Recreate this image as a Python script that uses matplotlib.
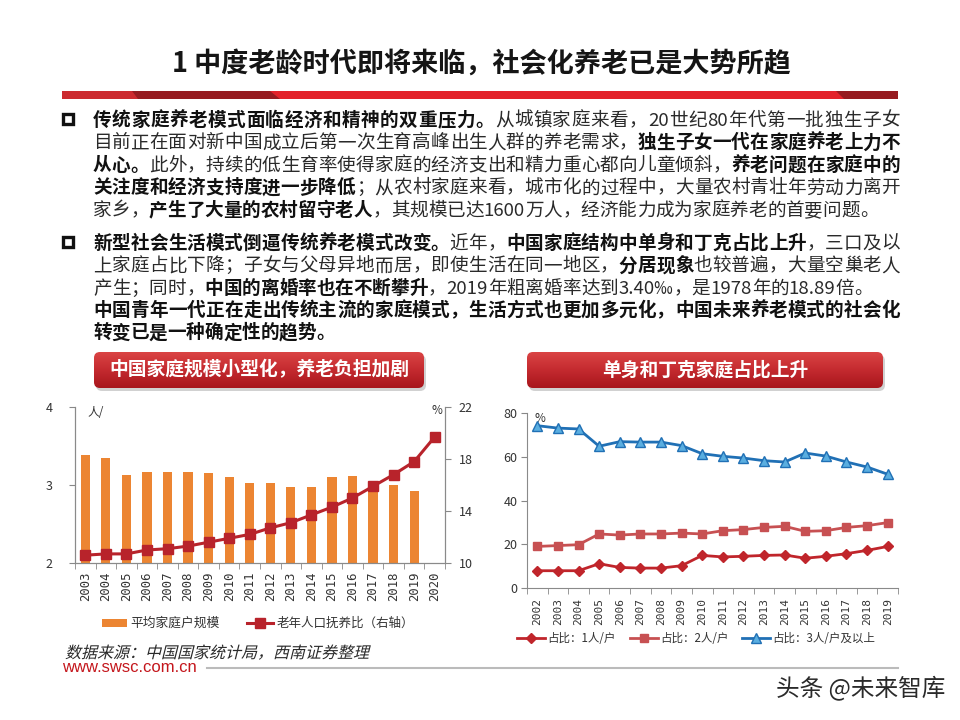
import re
import numpy as np
import matplotlib
matplotlib.use('Agg')
import matplotlib.pyplot as plt
from matplotlib.patches import FancyBboxPatch, Rectangle, Polygon, PathPatch
from matplotlib.textpath import TextPath
from matplotlib.font_manager import FontProperties
from matplotlib.transforms import Affine2D

plt.rcParams['font.family'] = ['Noto Sans CJK SC', 'DejaVu Sans']

W, H = 960, 720

# 左图：家庭户规模与老年抚养比
years_l = [str(y) for y in range(2003, 2021)]
hh_size = [3.38, 3.35, 3.13, 3.17, 3.17, 3.17, 3.15, 3.10, 3.03, 3.03,
           2.98, 2.98, 3.10, 3.11, 3.03, 3.00, 2.92]          # 2020年无数据
old_ratio = [10.6, 10.7, 10.7, 11.0, 11.1, 11.3, 11.6, 11.9, 12.2, 12.7,
             13.1, 13.7, 14.3, 15.0, 15.9, 16.8, 17.8, 19.7]

# 右图：不同规模家庭占比
years_r = [str(y) for y in range(2002, 2020)]
one_p = [7.9, 7.9, 7.9, 11.1, 9.4, 9.1, 9.1, 10.2, 14.9, 14.2,
         14.5, 14.9, 15.1, 13.6, 14.5, 15.7, 17.2, 19.0]
two_p = [19.0, 19.4, 19.8, 24.7, 24.2, 24.7, 24.7, 25.1, 24.7, 26.2,
         26.7, 27.7, 28.2, 25.9, 26.2, 27.7, 28.5, 29.9]
three_p = [74.2, 73.1, 72.7, 64.8, 66.9, 66.7, 66.7, 65.1, 61.4, 60.2,
           59.4, 58.2, 57.6, 61.7, 60.3, 57.6, 55.3, 52.0]
labels_r = ['占比：1人/户', '占比：2人/户', '占比：3人/户及以上']

title = '1 中度老龄时代即将来临，社会化养老已是大势所趋'
banner_l = '中国家庭规模小型化，养老负担加剧'
banner_r = '单身和丁克家庭占比上升'

# 正文：每行若干 (文字, 是否加粗)
para1 = [
    [('传统家庭养老模式面临经济和精神的双重压力。', 1), ('从城镇家庭来看，20世纪80年代第一批独生子女', 0)],
    [('目前正在面对新中国成立后第一次生育高峰出生人群的养老需求，', 0), ('独生子女一代在家庭养老上力不', 1)],
    [('从心。', 1), ('此外，持续的低生育率使得家庭的经济支出和精力重心都向儿童倾斜，', 0), ('养老问题在家庭中的', 1)],
    [('关注度和经济支持度进一步降低', 1), ('；从农村家庭来看，城市化的过程中，大量农村青壮年劳动力离开', 0)],
    [('家乡，', 0), ('产生了大量的农村留守老人', 1), ('，其规模已达1600万人，经济能力成为家庭养老的首要问题。', 0)],
]
para2 = [
    [('新型社会生活模式倒逼传统养老模式改变。', 1), ('近年，', 0), ('中国家庭结构中单身和丁克占比上升', 1), ('，三口及以', 0)],
    [('上家庭占比下降；子女与父母异地而居，即使生活在同一地区，', 0), ('分居现象', 1), ('也较普遍，大量空巢老人', 0)],
    [('产生；同时，', 0), ('中国的离婚率也在不断攀升', 1), ('，2019年粗离婚率达到3.40‰，是1978年的18.89倍。', 0)],
    [('中国青年一代正在走出传统主流的家庭模式，生活方式也更加多元化，中国未来养老模式的社会化', 1)],
    [('转变已是一种确定性的趋势。', 1)],
]

fig = plt.figure(figsize=(9.6, 7.2), dpi=100)
fig.patch.set_facecolor('white')
renderer = fig.canvas.get_renderer()

# 整页叠加层，坐标即像素
ax0 = fig.add_axes([0, 0, 1, 1])
ax0.set_xlim(0, W)
ax0.set_ylim(H, 0)
ax0.axis('off')

ax0.text(481, 64, title, fontsize=19.5, fontweight='bold', color='#151515',
         ha='center', va='center')

# 标题下的红条
ax0.add_patch(Rectangle((62, 91), 836, 8, color='#E3222A', lw=0))
ax0.add_patch(Polygon([(62, 91), (132, 91), (138, 99), (62, 99)], color='#CC2A2F', lw=0))
ax0.add_patch(Polygon([(132, 91), (270, 91), (280, 99), (138, 99)], color='#961B20', lw=0))
ax0.add_patch(Polygon([(836, 91), (898, 91), (898, 99), (844, 99)], color='#961B20', lw=0))

fs_body = 13.4
em = fs_body * 100 / 72


def draw_line(runs, yc, justify, x0=93, x1=900):
    toks = []
    for txt, bold in runs:
        for tok in re.findall(r'[A-Za-z0-9.%‰]+|.', txt):
            toks.append((tok, bold))
    widths = []
    for tok, bold in toks:
        if len(tok) == 1 and ord(tok) > 0x2E7F:
            widths.append(em)
        else:
            t = ax0.text(0, 0, tok, fontsize=fs_body, fontweight='bold' if bold else 'normal')
            widths.append(t.get_window_extent(renderer).width)
            t.remove()
    gap = (x1 - x0 - sum(widths)) / (len(toks) - 1) if justify else 0
    x = x0
    base = yc + 0.37 * em
    for (tok, bold), w in zip(toks, widths):
        fw = 'bold' if bold else 'normal'
        col = '#111111' if bold else '#2a2a2a'
        if len(tok) == 1 and ord(tok) > 0x2E7F:
            ax0.text(x + w / 2, base, tok, fontsize=fs_body, fontweight=fw, color=col,
                     ha='center', va='baseline')
        else:
            ax0.text(x, base, tok, fontsize=fs_body, fontweight=fw, color=col,
                     ha='left', va='baseline')
        x += w + gap


ys1 = [119, 141.5, 164, 186.5, 209]
ys2 = [242, 264.5, 287, 309, 331.5]
for i, (runs, yc) in enumerate(zip(para1, ys1)):
    draw_line(runs, yc, i != 4)
for i, (runs, yc) in enumerate(zip(para2, ys2)):
    draw_line(runs, yc, i not in (2, 4))
for yc in (ys1[0], ys2[0]):
    ax0.add_patch(Rectangle((63, yc - 5), 10, 10, fill=False, lw=2.4, ec='#111111'))


def banner(x, y, w, h, txt, cx):
    ax0.add_patch(FancyBboxPatch((x + 2, y + 3), w, h, boxstyle='round,pad=0,rounding_size=6',
                                 fc='#9a9a9a', ec='none', alpha=0.45))
    box = FancyBboxPatch((x, y), w, h, boxstyle='round,pad=0,rounding_size=6',
                         fc='none', ec='none')
    ax0.add_patch(box)
    grad = np.linspace(0, 1, 64).reshape(-1, 1)
    cmap = matplotlib.colors.LinearSegmentedColormap.from_list('bn', ['#DA4444', '#C42A2F', '#A8161C'])
    im = ax0.imshow(grad, cmap=cmap, extent=[x, x + w, y + h, y], aspect='auto', zorder=2)
    im.set_clip_path(box)
    ax0.text(cx, y + h / 2, txt, fontsize=13.5, fontweight='bold', color='white',
             ha='center', va='center', zorder=3)


banner(94, 352, 330, 36, banner_l, 259)
banner(527, 352, 356, 36, banner_r, 705)
ax0.set_xlim(0, W)
ax0.set_ylim(H, 0)

# 左图
def px_axes(x0, y0, x1, y1):
    return fig.add_axes([x0 / W, 1 - y1 / H, (x1 - x0) / W, (y1 - y0) / H])


ax1 = px_axes(75, 407, 445, 563)
ax1.set_facecolor('none')
xl = np.arange(len(years_l))
ax1.bar(xl[:len(hh_size)], hh_size, width=0.45, color='#EC8532', zorder=2)
ax1.set_xlim(-0.5, len(years_l) - 0.5)
ax1.set_ylim(2, 4)
ax1.set_yticks([2, 3, 4])
ax1.set_xticks(xl)
ax1.set_xticklabels(years_l, rotation=90, fontsize=8.8, family='DejaVu Sans Mono', color='#333333')
ax1.set_xticks(np.arange(-0.5, len(years_l)), minor=True)
ax1.tick_params(axis='x', which='major', length=0, pad=6)
ax1.tick_params(axis='x', which='minor', length=4, color='#888888')
ax1.tick_params(axis='y', length=4, color='#888888', labelsize=9, labelcolor='#333333', pad=12)
for s in ('left', 'bottom', 'right'):
    ax1.spines[s].set_color('#8a8a8a')
ax1.spines['top'].set_visible(False)

ax1b = ax1.twinx()
ax1b.plot(xl, old_ratio, color='#B8232B', lw=2.2, marker='s', ms=6.5, zorder=3)
ax1b.set_ylim(10, 22)
ax1b.set_yticks([10, 14, 18, 22])
ax1b.tick_params(axis='y', length=4, color='#888888', labelsize=9, labelcolor='#333333', pad=6)
for s in ('left', 'bottom', 'right'):
    ax1b.spines[s].set_color('#8a8a8a')
ax1b.spines['top'].set_visible(False)

ax0.text(87, 412, '人/', fontsize=8.5, color='#333333', ha='left', va='center')
ax0.text(437, 411, '%', fontsize=8.5, color='#333333', ha='center', va='center')

# 左图图例
ax0.add_patch(Rectangle((102, 619), 25, 8, color='#EC8532', lw=0))
ax0.text(130, 623, '平均家庭户规模', fontsize=9.2, color='#333333', ha='left', va='center')
ax0.plot([247, 260, 273], [623] * 3, color='#B8232B', lw=2.2, marker='s', ms=6.5, markevery=[1])
ax0.text(277, 623, '老年人口抚养比（右轴）', fontsize=9, color='#333333', ha='left', va='center')

# 右图
ax2 = px_axes(527, 413, 898, 588)
ax2.set_facecolor('none')
xr = np.arange(len(years_r))
ax2.plot(xr, one_p, color='#C0252B', lw=2, marker='D', ms=5, label=labels_r[0])
ax2.plot(xr, two_p, color='#C75052', lw=2, marker='s', ms=6, label=labels_r[1])
ax2.plot(xr, three_p, color='#2070B5', lw=2, marker='^', ms=6.5, mfc='#5AAEE0', mec='#2070B5',
         label=labels_r[2])
ax2.set_xlim(-0.5, len(years_r) - 0.5)
ax2.set_ylim(0, 80)
ax2.set_yticks([0, 20, 40, 60, 80])
ax2.set_xticks(xr)
ax2.set_xticklabels(years_r, rotation=90, fontsize=8, family='DejaVu Sans Mono', color='#333333')
ax2.set_xticks(np.arange(-0.5, len(years_r)), minor=True)
ax2.tick_params(axis='x', which='major', length=0, pad=7)
ax2.tick_params(axis='x', which='minor', length=4, color='#888888')
ax2.tick_params(axis='y', length=4, color='#888888', labelsize=9, labelcolor='#333333', pad=3)
for s in ('left', 'bottom'):
    ax2.spines[s].set_color('#8a8a8a')
for s in ('top', 'right'):
    ax2.spines[s].set_visible(False)
ax0.text(540, 418, '%', fontsize=8.5, color='#333333', ha='center', va='center')

# 右图图例
leg_items = [(517, '#C0252B', 'D', 5, '#C0252B'),
             (630, '#C75052', 's', 6, '#C75052'),
             (742, '#2070B5', '^', 6.5, '#5AAEE0')]
for (lx, c, m, ms, mfc), lab in zip(leg_items, labels_r):
    ax0.plot([lx, lx + 14, lx + 28], [638] * 3, color=c, lw=2, marker=m, ms=ms,
             mfc=mfc, mec=c, markevery=[1])
    ax0.text(lx + 30, 638, lab, fontsize=8.3, color='#333333', ha='left', va='center')

# 数据来源（斜体效果）
src = '数据来源：中国国家统计局，西南证券整理'
tp = TextPath((0, 0), src, size=16, prop=FontProperties(family='Noto Sans CJK SC'))
tr = Affine2D().skew_deg(14, 0).scale(1, -1).translate(65, 658) + ax0.transData
ax0.add_patch(PathPatch(tp, transform=tr, fc='#2a2a2a', ec='none'))

ax0.text(62, 668, 'www.swsc.com.cn', fontsize=12, family='Liberation Sans', color='#C4161C',
         ha='left', va='center')
ax0.plot([207, 898], [668, 668], color='#bbbbbb', lw=1.5)
ax0.text(945, 688, '头条 @未来智库', fontsize=17, color='#2a2a2a', ha='right', va='center')

fig.savefig('out.png', dpi=100, facecolor='white')
